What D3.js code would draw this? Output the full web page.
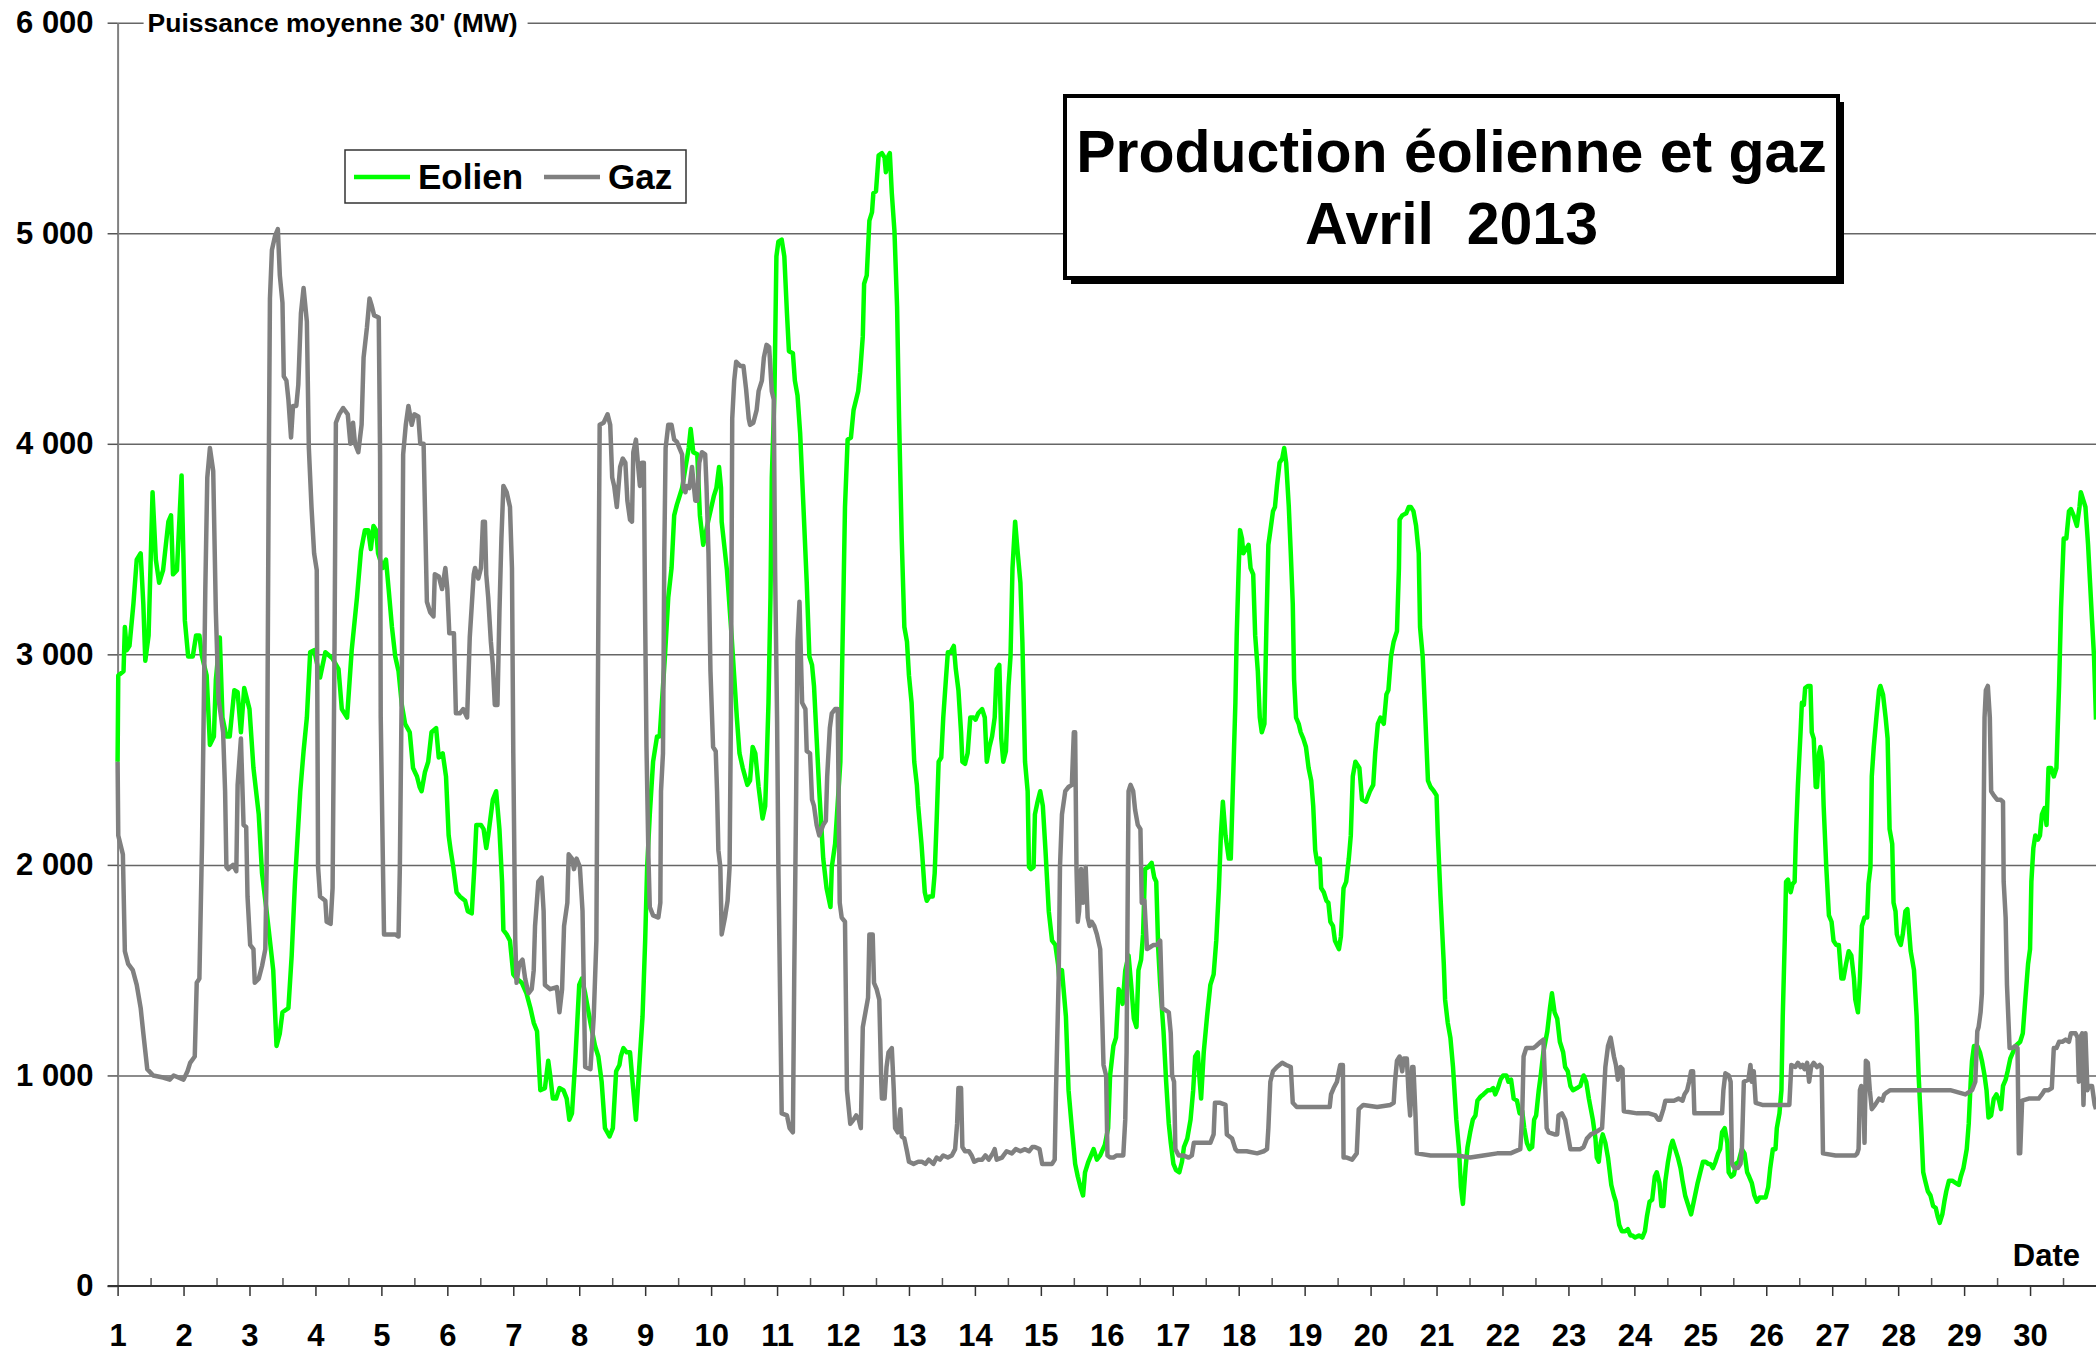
<!DOCTYPE html>
<html>
<head>
<meta charset="utf-8">
<script src="https://cdn.jsdelivr.net/npm/d3@7"></script>
<style>
html, body { margin: 0; padding: 0; background: #fff; }
svg text { font-family: "Liberation Sans", Arial, sans-serif; font-weight: bold; fill: #000; }
</style>
</head>
<body>
<svg id="chart"></svg>
<script>
// Production éolienne et gaz - avril 2013
// puissance moyenne 30' (MW): [jour, MW]

var eolien = [
  [1.00,2490],[1.01,2900],[1.09,2920],[1.11,3130],[1.14,3020],[1.18,3040],[1.24,3240],[1.29,3450],[1.35,3480],[1.39,3240],[1.42,2970],[1.47,3090],[1.53,3770],[1.58,3450],[1.63,3340],[1.69,3400],[1.77,3630],[1.81,3660],[1.84,3380],[1.90,3400],[1.97,3850],[2.02,3160],[2.07,2990],[2.14,2990],[2.19,3090],[2.24,3090],[2.28,2990],[2.35,2900],[2.40,2570],[2.46,2610],[2.49,2880],[2.55,3080],[2.59,2700],[2.65,2610],[2.70,2610],[2.77,2830],[2.82,2820],[2.87,2630],[2.92,2840],[3.00,2740],[3.06,2460],[3.14,2240],[3.19,1960],[3.26,1780],[3.36,1500],[3.41,1140],[3.46,1200],[3.50,1300],[3.59,1320],[3.64,1570],[3.69,1920],[3.77,2350],[3.82,2540],[3.87,2700],[3.92,3010],[3.98,3020],[4.07,2890],[4.15,3010],[4.26,2980],[4.35,2930],[4.40,2740],[4.48,2700],[4.55,3020],[4.63,3270],[4.69,3490],[4.75,3590],
  [4.80,3590],[4.84,3500],[4.88,3610],[4.92,3590],[4.95,3480],[5.02,3410],[5.07,3450],[5.11,3310],[5.16,3130],[5.21,2990],[5.26,2920],[5.31,2760],[5.36,2670],[5.43,2630],[5.48,2460],[5.54,2420],[5.58,2370],[5.61,2350],[5.66,2440],[5.71,2490],[5.76,2630],[5.83,2650],[5.87,2510],[5.93,2530],[5.98,2420],[6.02,2140],[6.05,2070],[6.09,1990],[6.14,1870],[6.19,1850],[6.27,1830],[6.31,1780],[6.37,1770],[6.41,1990],[6.44,2190],[6.51,2190],[6.55,2170],[6.59,2080],[6.62,2140],[6.69,2310],[6.74,2350],[6.79,2170],[6.83,1920],[6.85,1690],[6.90,1670],[6.95,1640],[7.00,1480],[7.05,1460],[7.13,1440],[7.20,1390],[7.26,1320],[7.31,1250],[7.36,1210],[7.41,930],[7.48,940],[7.53,1070],[7.56,1000],[7.60,890],[7.65,890],[7.70,940],[7.76,930],[7.81,890],[7.85,790],[7.89,820],[7.94,1070],[7.97,1250],[8.00,1430],[8.04,1460],[8.09,1390],[8.17,1250],[8.24,1140],[8.29,1090],[8.34,970],[8.39,750],[8.46,710],[8.51,750],[8.56,1020],[8.61,1050],
  [8.63,1090],[8.67,1130],[8.72,1110],[8.77,1110],[8.82,930],[8.86,790],[8.91,1040],[8.96,1280],[9.00,1640],[9.03,1990],[9.07,2240],[9.12,2490],[9.18,2610],[9.22,2610],[9.30,2990],[9.35,3270],[9.40,3410],[9.44,3660],[9.48,3710],[9.56,3790],[9.66,3980],[9.69,4070],[9.73,3960],[9.79,3950],[9.83,3660],[9.88,3520],[9.94,3610],[10.04,3750],[10.08,3790],[10.12,3890],[10.15,3790],[10.16,3630],[10.24,3400],[10.31,3090],[10.39,2700],[10.43,2530],[10.48,2460],[10.55,2380],[10.59,2400],[10.63,2560],[10.67,2530],[10.72,2370],[10.78,2220],[10.82,2280],[10.84,2460],[10.87,2770],[10.90,3270],[10.92,3840],[10.96,4230],[10.99,4890],[11.02,4960],[11.07,4970],[11.11,4890],[11.15,4620],[11.18,4440],[11.24,4430],[11.27,4300],[11.31,4230],[11.35,4050],[11.40,3700],[11.45,3340],[11.49,2990],[11.53,2950],[11.56,2850],[11.60,2600],[11.64,2350],[11.70,2030],[11.75,1890],[11.81,1800],[11.83,1990],[11.88,2100],[11.96,2490],[12.01,3340],[12.03,3700],[12.07,4020],[12.12,4030],[12.16,4160],[12.23,4250],[12.26,4340],[12.30,4510],[12.32,4760],[12.36,4800],[12.40,5060],
  [12.44,5100],[12.46,5190],[12.50,5200],[12.54,5370],[12.59,5380],[12.63,5360],[12.65,5290],[12.69,5370],[12.71,5380],[12.74,5190],[12.78,5010],[12.82,4650],[12.85,4120],[12.89,3550],[12.93,3130],[12.97,3060],[13.00,2900],[13.04,2770],[13.08,2490],[13.12,2380],[13.14,2280],[13.19,2100],[13.24,1870],[13.27,1830],[13.31,1850],[13.36,1850],[13.39,1960],[13.42,2210],[13.45,2490],[13.49,2510],[13.52,2700],[13.56,2880],[13.59,3010],[13.63,3010],[13.68,3040],[13.71,2930],[13.75,2830],[13.79,2630],[13.81,2490],[13.85,2480],[13.89,2530],[13.93,2700],[13.98,2700],[14.01,2690],[14.05,2720],[14.11,2740],[14.15,2700],[14.18,2490],[14.22,2560],[14.26,2610],[14.30,2700],[14.33,2930],[14.37,2950],[14.40,2600],[14.43,2490],[14.47,2540],[14.51,2850],[14.54,2990],[14.57,3410],[14.61,3630],[14.65,3480],[14.69,3340],[14.72,3060],[14.76,2490],[14.80,2350],[14.82,1990],[14.85,1980],[14.89,1990],[14.91,2240],[14.95,2300],[14.99,2350],[15.03,2280],[15.07,2070],[15.12,1780],[15.17,1640],[15.22,1620],[15.26,1530],[15.28,1460],[15.32,1500],[15.38,1280],[15.42,930],[15.47,750],[15.52,580],[15.56,520],[15.60,470],[15.64,430],[15.67,540],[15.72,590],[15.80,650],[15.85,600],[15.90,620],[15.97,670],[16.02,750],[16.05,1000],[16.10,1140],
  [16.14,1180],[16.18,1410],[16.21,1390],[16.24,1340],[16.28,1500],[16.33,1570],[16.37,1430],[16.41,1270],[16.45,1230],[16.48,1500],[16.52,1550],[16.55,1670],[16.58,1980],[16.63,1990],[16.68,2010],[16.72,1940],[16.75,1920],[16.78,1600],[16.81,1430],[16.86,1210],[16.90,970],[16.94,770],[16.97,680],[17.01,580],[17.05,550],[17.10,540],[17.14,590],[17.17,660],[17.22,700],[17.27,790],[17.31,930],[17.34,1090],[17.38,1110],[17.41,970],[17.43,890],[17.47,1110],[17.52,1280],[17.57,1430],[17.62,1480],[17.66,1640],[17.70,1890],[17.73,2140],[17.76,2300],[17.80,2140],[17.85,2030],[17.88,2030],[17.91,2350],[17.95,2770],[17.97,3090],[18.00,3410],[18.02,3590],[18.05,3550],[18.07,3480],[18.11,3500],[18.15,3520],[18.18,3410],[18.22,3380],[18.25,3090],[18.29,2920],[18.32,2700],[18.35,2630],[18.39,2670],[18.42,3130],[18.45,3520],[18.49,3610],[18.52,3680],[18.55,3700],[18.58,3800],[18.62,3910],[18.66,3930],[18.69,3980],[18.72,3910],[18.76,3700],[18.79,3480],[18.82,3240],[18.84,2880],[18.87,2700],[18.91,2670],[18.94,2630],[18.98,2600],[19.02,2560],[19.06,2460],[19.10,2400],[19.13,2280],[19.16,2070],[19.19,2010],[19.23,2030],[19.25,1890],[19.29,1870],[19.33,1830],[19.36,1820],[19.39,1730],[19.43,1710],[19.46,1640],[19.52,1600],[19.55,1660],[19.59,1890],[19.63,1920],[19.67,2030],[19.70,2140],[19.73,2420],[19.77,2490],
  [19.83,2460],[19.87,2310],[19.93,2300],[19.99,2350],[20.04,2380],[20.07,2530],[20.11,2670],[20.15,2700],[20.20,2670],[20.24,2810],[20.27,2830],[20.31,2990],[20.35,3060],[20.40,3110],[20.43,3410],[20.44,3640],[20.48,3660],[20.54,3670],[20.58,3700],[20.61,3700],[20.65,3680],[20.69,3610],[20.73,3480],[20.75,3130],[20.79,2990],[20.83,2700],[20.87,2400],[20.91,2370],[20.96,2350],[21.00,2330],[21.02,2140],[21.06,1850],[21.11,1530],[21.13,1360],[21.17,1250],[21.21,1180],[21.25,1040],[21.30,790],[21.34,650],[21.37,470],[21.40,390],[21.44,560],[21.47,660],[21.51,730],[21.55,790],[21.59,810],[21.62,880],[21.67,900],[21.71,910],[21.78,930],[21.82,930],[21.86,940],[21.89,910],[21.93,940],[21.97,980],[22.01,1000],[22.06,1000],[22.09,970],[22.13,980],[22.17,890],[22.22,880],[22.26,820],[22.30,830],[22.33,750],[22.37,680],[22.41,650],[22.45,660],[22.48,790],[22.51,810],[22.55,930],[22.58,1000],[22.62,1110],[22.68,1210],[22.72,1320],[22.75,1390],[22.79,1300],[22.83,1270],[22.87,1160],[22.92,1110],[22.95,1040],[22.99,1020],[23.03,950],[23.07,930],[23.13,940],[23.18,950],[23.23,1000],[23.27,970],[23.31,890],[23.34,840],[23.37,790],[23.41,700],[23.43,610],[23.46,590],[23.49,680],[23.52,720],[23.56,680],[23.60,610],
  [23.65,480],[23.69,430],[23.72,400],[23.75,330],[23.77,290],[23.81,260],[23.86,260],[23.90,270],[23.94,240],[23.97,240],[24.01,230],[24.07,240],[24.12,230],[24.16,260],[24.19,330],[24.23,400],[24.27,410],[24.31,520],[24.34,540],[24.38,490],[24.41,380],[24.44,380],[24.47,500],[24.51,590],[24.55,660],[24.58,690],[24.62,650],[24.66,610],[24.70,560],[24.73,500],[24.77,430],[24.82,380],[24.86,340],[24.90,400],[24.92,430],[24.96,490],[25.00,540],[25.04,590],[25.08,590],[25.12,580],[25.15,580],[25.19,560],[25.23,590],[25.27,630],[25.30,650],[25.33,730],[25.37,750],[25.41,680],[25.43,540],[25.47,520],[25.51,530],[25.54,580],[25.58,590],[25.63,650],[25.67,630],[25.71,540],[25.74,520],[25.78,490],[25.82,430],[25.86,400],[25.90,420],[25.94,420],[25.99,420],[26.03,470],[26.06,560],[26.10,650],[26.14,650],[26.16,750],[26.20,820],[26.23,930],[26.25,1280],[26.28,1640],[26.30,1920],[26.33,1930],[26.37,1870],[26.40,1910],[26.43,1920],[26.45,2140],[26.48,2380],[26.52,2630],[26.54,2770],[26.57,2760],[26.59,2840],[26.63,2850],[26.67,2850],[26.69,2630],[26.72,2600],[26.75,2370],[26.77,2370],[26.80,2530],[26.82,2560],[26.85,2490],[26.87,2280],[26.91,1990],[26.95,1760],[26.99,1730],[27.02,1640],[27.06,1620],[27.10,1620],[27.14,1460],[27.17,1460],[27.21,1530],[27.25,1590],[27.29,1570],[27.33,1460],[27.35,1360],
  [27.39,1300],[27.42,1460],[27.45,1710],[27.49,1750],[27.53,1750],[27.55,1910],[27.58,1990],[27.60,2420],[27.63,2560],[27.67,2700],[27.71,2830],[27.73,2850],[27.77,2810],[27.81,2700],[27.84,2600],[27.87,2170],[27.91,2100],[27.93,1820],[27.96,1780],[27.98,1670],[28.01,1640],[28.04,1620],[28.07,1670],[28.11,1780],[28.14,1790],[28.16,1710],[28.19,1590],[28.24,1500],[28.28,1280],[28.31,1000],[28.35,750],[28.38,540],[28.41,500],[28.45,450],[28.49,430],[28.53,380],[28.57,370],[28.60,330],[28.63,300],[28.67,340],[28.70,400],[28.73,450],[28.77,500],[28.82,500],[28.87,490],[28.92,480],[28.95,520],[28.99,560],[29.04,650],[29.07,770],[29.10,970],[29.12,1070],[29.15,1140],[29.20,1140],[29.24,1110],[29.27,1070],[29.31,1000],[29.34,930],[29.37,800],[29.41,810],[29.45,890],[29.49,910],[29.53,880],[29.56,840],[29.59,950],[29.63,980],[29.66,1020],[29.70,1080],[29.74,1110],[29.78,1140],[29.85,1160],[29.89,1200],[29.93,1370],[29.97,1530],[30.00,1600],[30.02,1920],[30.05,2080],[30.08,2140],[30.12,2120],[30.15,2140],[30.18,2240],[30.22,2270],[30.25,2190],[30.28,2460],[30.32,2460],[30.36,2420],[30.40,2460],[30.44,2850],[30.47,3220],[30.51,3550],[30.55,3550],[30.59,3680],[30.62,3690],[30.66,3660],[30.71,3610],[30.75,3700],[30.77,3770],[30.81,3730],[30.84,3700],[30.88,3520],[30.91,3340],[30.94,3160],[30.97,2990],[31.00,2690]
];

var gaz = [
  [1.00,2490],[1.01,2140],[1.08,2050],[1.11,1590],[1.16,1530],[1.23,1500],[1.29,1430],[1.35,1320],[1.39,1200],[1.45,1030],[1.54,1000],[1.69,990],[1.79,980],[1.85,1000],[2.00,980],[2.06,1020],[2.10,1060],[2.17,1090],[2.20,1440],[2.24,1460],[2.28,2100],[2.33,3310],[2.36,3840],[2.40,3980],[2.45,3870],[2.49,3200],[2.53,2790],[2.57,2700],[2.60,2630],[2.63,2350],[2.65,1990],[2.68,1980],[2.75,2000],[2.80,1970],[2.82,2380],[2.87,2600],[2.91,2190],[2.95,2180],[2.97,1850],[3.01,1620],[3.06,1600],[3.08,1440],[3.14,1460],[3.19,1520],[3.24,1600],[3.26,1990],[3.29,3770],[3.31,4690],[3.34,4920],[3.39,4990],[3.43,5020],[3.46,4800],[3.50,4670],[3.52,4320],[3.56,4300],[3.59,4210],[3.63,4030],[3.66,4180],[3.71,4180],[3.74,4280],[3.78,4620],[3.82,4740],[3.87,4580],[3.90,3980],[3.94,3700],[3.98,3480],[4.02,3400],[4.04,1990],[4.07,1850],[4.15,1830],[4.17,1730],[4.23,1720],[4.26,1890],[4.29,3060],[4.31,4100],[4.36,4140],[4.42,4170],[4.49,4140],[4.53,4000],[4.57,4100],[4.60,4000],[4.65,3960],[4.70,4090],[4.73,4410],[4.78,4550],[4.82,4690],
  [4.85,4660],[4.89,4610],[4.96,4600],[4.98,3950],[4.99,2700],[5.02,2070],[5.04,1670],[5.13,1670],[5.21,1670],[5.26,1660],[5.28,1990],[5.31,2880],[5.33,3950],[5.37,4090],[5.41,4180],[5.46,4090],[5.50,4140],[5.56,4130],[5.59,4000],[5.64,4000],[5.66,3700],[5.69,3250],[5.74,3200],[5.79,3180],[5.81,3380],[5.87,3370],[5.92,3310],[5.97,3410],[6.00,3310],[6.03,3100],[6.10,3100],[6.13,2720],[6.19,2720],[6.24,2740],[6.30,2700],[6.34,3080],[6.40,3380],[6.42,3410],[6.47,3360],[6.51,3410],[6.54,3630],[6.57,3630],[6.59,3380],[6.62,3270],[6.66,3060],[6.69,2950],[6.72,2760],[6.76,2760],[6.79,3200],[6.82,3550],[6.85,3800],[6.90,3770],[6.95,3700],[6.98,3410],[7.00,2530],[7.03,1640],[7.05,1440],[7.09,1530],[7.14,1550],[7.18,1460],[7.23,1390],[7.28,1410],[7.31,1500],[7.33,1710],[7.38,1920],[7.43,1940],[7.46,1780],[7.48,1430],[7.56,1410],[7.66,1420],[7.70,1300],[7.74,1410],[7.77,1710],[7.82,1820],[7.84,2050],[7.89,2030],[7.92,1980],[7.96,2030],[8.01,1990],[8.05,1780],[8.09,1040],[8.17,1030],[8.22,1280],[8.26,1640],[8.28,2700],[8.31,4090],[8.37,4100],[8.43,4140],[8.47,4090],[8.50,3840],[8.53,3800],[8.57,3700],
  [8.62,3890],[8.66,3930],[8.70,3910],[8.73,3730],[8.77,3640],[8.80,3630],[8.82,3960],[8.86,4020],[8.90,3870],[8.92,3800],[8.95,3910],[8.98,3910],[9.00,3160],[9.02,2560],[9.05,2030],[9.07,1800],[9.12,1760],[9.20,1750],[9.23,1820],[9.24,2350],[9.27,2530],[9.29,3480],[9.31,3980],[9.35,4090],[9.40,4090],[9.44,4020],[9.48,4010],[9.52,3980],[9.56,3950],[9.58,3790],[9.61,3770],[9.63,3800],[9.67,3790],[9.71,3890],[9.76,3730],[9.79,3730],[9.82,3910],[9.86,3960],[9.91,3950],[9.93,3800],[9.96,3480],[9.99,2920],[10.03,2560],[10.07,2540],[10.09,2350],[10.11,2070],[10.14,1990],[10.16,1670],[10.21,1750],[10.25,1830],[10.28,1990],[10.30,2700],[10.32,4120],[10.35,4300],[10.38,4390],[10.44,4370],[10.49,4370],[10.53,4260],[10.57,4120],[10.59,4090],[10.64,4100],[10.69,4160],[10.72,4250],[10.77,4300],[10.80,4410],[10.84,4470],[10.88,4460],[10.92,4250],[10.95,4210],[10.97,3410],[11.00,2700],[11.02,1990],[11.05,1280],[11.07,820],[11.15,810],[11.19,750],[11.24,730],[11.26,1460],[11.29,2350],[11.31,3060],[11.34,3250],[11.38,2770],[11.43,2740],[11.45,2540],[11.50,2530],[11.53,2310],[11.56,2280],[11.60,2190],[11.64,2140],[11.70,2190],[11.74,2210],[11.76,2420],[11.80,2650],[11.83,2720],[11.88,2740],[11.92,2740],[11.95,1820],[11.98,1750],[12.03,1730],[12.06,930],[12.11,770],[12.16,790],[12.20,810],[12.24,790],[12.27,750],[12.30,1230],[12.34,1300],[12.38,1370],[12.40,1670],
  [12.45,1670],[12.47,1440],[12.51,1410],[12.55,1360],[12.58,970],[12.59,890],[12.63,890],[12.66,1040],[12.69,1110],[12.74,1130],[12.77,930],[12.79,750],[12.83,730],[12.87,840],[12.89,710],[12.93,700],[12.97,640],[13.00,590],[13.07,580],[13.14,590],[13.20,590],[13.25,580],[13.30,600],[13.37,580],[13.42,610],[13.47,600],[13.52,620],[13.59,610],[13.65,620],[13.70,650],[13.73,770],[13.75,940],[13.79,940],[13.81,660],[13.85,640],[13.91,640],[13.95,620],[13.99,590],[14.05,600],[14.11,600],[14.16,620],[14.21,600],[14.27,630],[14.30,650],[14.33,600],[14.41,610],[14.48,640],[14.56,630],[14.62,650],[14.69,640],[14.76,650],[14.82,640],[14.87,660],[14.91,660],[14.98,650],[15.02,580],[15.09,580],[15.17,580],[15.21,600],[15.23,930],[15.27,1460],[15.29,1990],[15.32,2240],[15.37,2350],[15.42,2370],[15.47,2380],[15.50,2630],[15.52,2630],[15.54,1990],[15.56,1730],[15.58,1780],[15.61,1980],[15.64,1820],[15.66,1850],[15.68,1990],[15.71,1750],[15.74,1710],[15.77,1730],[15.81,1710],[15.85,1670],[15.90,1600],[15.93,1280],[15.95,1050],[15.99,1000],[16.01,620],[16.05,610],
  [16.10,610],[16.15,620],[16.20,620],[16.25,620],[16.28,790],[16.30,1110],[16.32,1990],[16.33,2350],[16.36,2380],[16.40,2350],[16.43,2260],[16.47,2190],[16.51,2170],[16.53,1820],[16.57,1830],[16.61,1600],[16.66,1610],[16.71,1620],[16.76,1620],[16.81,1640],[16.84,1320],[16.89,1310],[16.94,1300],[16.97,1200],[16.99,1000],[17.02,970],[17.04,650],[17.09,620],[17.16,620],[17.24,610],[17.29,620],[17.32,680],[17.39,680],[17.47,680],[17.57,680],[17.62,720],[17.64,870],[17.72,870],[17.80,860],[17.82,720],[17.90,700],[17.95,650],[17.98,640],[18.12,640],[18.28,630],[18.38,640],[18.43,650],[18.45,750],[18.48,970],[18.52,1020],[18.58,1040],[18.66,1060],[18.72,1050],[18.79,1040],[18.82,870],[18.88,850],[19.14,850],[19.38,850],[19.40,910],[19.44,940],[19.49,970],[19.52,1020],[19.54,1050],[19.58,1050],[19.59,610],[19.64,610],[19.72,600],[19.79,630],[19.82,840],
  [19.89,860],[20.10,850],[20.30,860],[20.35,870],[20.37,970],[20.40,1070],[20.44,1090],[20.48,1020],[20.50,1080],[20.55,1080],[20.58,890],[20.60,810],[20.63,1040],[20.65,1040],[20.68,820],[20.70,630],[20.91,620],[21.11,620],[21.31,620],[21.51,610],[21.71,620],[21.92,630],[22.12,630],[22.27,650],[22.30,820],[22.32,1090],[22.36,1130],[22.42,1130],[22.47,1130],[22.51,1140],[22.58,1160],[22.62,1170],[22.65,930],[22.67,750],[22.70,730],[22.79,720],[22.83,720],[22.85,810],[22.90,820],[22.95,790],[22.99,720],[23.03,650],[23.09,650],[23.18,650],[23.23,660],[23.28,700],[23.34,720],[23.41,730],[23.51,750],[23.53,860],[23.56,1040],[23.60,1140],[23.64,1180],
  [23.69,1090],[23.72,1050],[23.75,980],[23.79,1040],[23.82,1030],[23.84,830],[24.04,820],[24.22,820],[24.32,810],[24.36,790],[24.39,790],[24.44,840],[24.47,880],[24.60,880],[24.67,890],[24.73,880],[24.76,910],[24.80,930],[24.83,970],[24.86,1020],[24.89,1020],[24.91,820],[25.33,820],[25.35,930],[25.38,1010],[25.43,1000],[25.46,970],[25.48,580],[25.52,560],[25.57,560],[25.61,580],[25.63,650],[25.66,970],[25.73,980],[25.76,1050],[25.78,970],[25.81,1020],[25.84,870],[25.94,860],[26.19,860],[26.35,860],[26.38,1050],[26.44,1040],[26.48,1060],[26.52,1040],[26.55,1050],[26.58,1030],[26.62,1060],[26.65,970],[26.68,1040],[26.72,1060],[26.77,1040],[26.81,1050],[26.84,1040],[26.86,630],[27.05,620],[27.35,620],
  [27.38,630],[27.40,650],[27.42,930],[27.44,950],[27.47,930],[27.49,680],[27.51,1070],[27.54,1060],[27.57,930],[27.60,840],[27.65,860],[27.71,890],[27.76,880],[27.79,910],[27.83,920],[27.88,930],[28.39,930],[28.79,930],[29.02,910],[29.12,930],[29.17,970],[29.20,1210],[29.22,1230],[29.25,1300],[29.27,1390],[29.29,1990],[29.31,2700],[29.33,2830],[29.36,2850],[29.39,2700],[29.41,2350],[29.45,2330],[29.50,2310],[29.55,2310],[29.59,2300],[29.60,1920],[29.63,1750],[29.65,1430],[29.69,1130],[29.73,1130],[29.78,1140],[29.81,1130],[29.83,630],[29.85,630],[29.88,880],[29.98,890],[30.06,890],[30.13,890],[30.18,910],[30.22,930],[30.28,930],[30.33,940],[30.36,1130],[30.40,1130],[30.44,1160],[30.49,1160],[30.54,1170],[30.59,1160],[30.62,1200],[30.69,1200],[30.72,1180],[30.74,970],[30.76,1180],[30.79,1200],[30.81,860],[30.84,1200],[30.87,930],[30.89,950],[30.94,950],[30.98,860],[31.00,840]
];

var jours = d3.range(1, 31);          // étiquettes 1 .. 30
var demiJours = d3.range(1.5, 31, 1);  // petites graduations
var paliers = [0, 1000, 2000, 3000, 4000, 5000, 6000];
var seriesNames = ["Eolien", "Gaz"];
var seriesColors = ["#00ff00", "#808080"];
var titre = ["Production éolienne et gaz", "Avril  2013"];
var axeTitre = "Puissance moyenne 30' (MW)";

var width = 2096, height = 1352;
var x0 = 117.6, x1 = 2096, yBottom = 1286, yTop = 22.7;

var fr = d3.formatLocale({decimal: ",", thousands: " ", grouping: [3], currency: ["", " €"]});
var fmt = fr.format(",d");

var x = d3.scaleLinear().domain([1, 31]).range([x0, x1]);
var y = d3.scaleLinear().domain([0, 6000]).range([yBottom, yTop]);

var svg = d3.select("#chart")
    .attr("width", width)
    .attr("height", height);

svg.append("rect").attr("width", width).attr("height", height).attr("fill", "#fff");

// Quadrillage horizontal
svg.append("g")
    .attr("class", "grid")
    .attr("transform", "translate(" + x0 + ",0)")
    .call(d3.axisLeft(y).tickValues(paliers.slice(1)).tickSize(-(x1 - x0)).tickFormat(""))
    .call(function(g) { g.select(".domain").remove(); })
    .selectAll("line").attr("stroke", "#666").attr("stroke-width", 1.5);

// Axe vertical
var yAxis = svg.append("g")
    .attr("transform", "translate(" + x0 + ",0)")
    .call(d3.axisLeft(y).tickValues(paliers).tickSize(10).tickSizeOuter(0).tickPadding(14).tickFormat(fmt));
yAxis.select(".domain").attr("stroke", "#808080").attr("stroke-width", 2);
yAxis.selectAll(".tick line").attr("stroke", "#555").attr("stroke-width", 1.5);
yAxis.selectAll("text")
    .attr("font-size", 31)
    .attr("font-family", null)
    .attr("fill", "#000");

// Axe horizontal : grandes graduations vers le bas, petites vers le haut
var xAxis = svg.append("g")
    .attr("transform", "translate(0," + yBottom + ")")
    .call(d3.axisBottom(x).tickValues(jours).tickSize(10).tickSizeOuter(0).tickFormat(d3.format("d")));
xAxis.select(".domain").remove();
xAxis.selectAll(".tick line").attr("stroke", "#333").attr("stroke-width", 1.5);
xAxis.selectAll("text")
    .attr("dy", null)
    .attr("y", 60)
    .attr("font-size", 31)
    .attr("font-family", null)
    .attr("fill", "#000");

svg.append("g")
    .attr("transform", "translate(0," + yBottom + ")")
    .call(d3.axisBottom(x).tickValues(demiJours).tickSize(-8).tickFormat(""))
    .call(function(g) { g.select(".domain").remove(); })
    .selectAll("line").attr("stroke", "#555").attr("stroke-width", 1.5);

svg.append("line")
    .attr("x1", x0 - 10).attr("x2", x1)
    .attr("y1", yBottom).attr("y2", yBottom)
    .attr("stroke", "#333").attr("stroke-width", 2);

// Titre de l'axe des ordonnées (masque la ligne à 6 000)
svg.append("rect")
    .attr("x", x0 + 26).attr("y", 8)
    .attr("width", 384).attr("height", 30)
    .attr("fill", "#fff");
svg.append("text")
    .attr("x", x0 + 30).attr("y", y(6000) + 9)
    .attr("font-size", 26.5)
    .text(axeTitre);

svg.append("text")
    .attr("x", 2080).attr("y", 1266)
    .attr("text-anchor", "end")
    .attr("font-size", 31)
    .text("Date");

// Courbes
var line = d3.line()
    .x(function(d) { return x(d[0]); })
    .y(function(d) { return y(d[1]); });

[eolien, gaz].forEach(function(serie, i) {
    svg.append("path")
        .datum(serie)
        .attr("fill", "none")
        .attr("stroke", seriesColors[i])
        .attr("stroke-width", 4.5)
        .attr("stroke-linejoin", "round")
        .attr("d", line);
});

// Légende
var legend = svg.append("g").attr("transform", "translate(345,150)");
legend.append("rect")
    .attr("width", 341).attr("height", 53)
    .attr("fill", "#fff").attr("stroke", "#333").attr("stroke-width", 1.5);
var legendX = [9, 199];
seriesNames.forEach(function(name, i) {
    legend.append("line")
        .attr("x1", legendX[i]).attr("x2", legendX[i] + 56)
        .attr("y1", 27).attr("y2", 27)
        .attr("stroke", seriesColors[i]).attr("stroke-width", 4.5);
    legend.append("text")
        .attr("x", legendX[i] + 64).attr("y", 39)
        .attr("font-size", 35)
        .text(name);
});

// Cadre du titre avec ombre
var tx = 1065, ty = 96, tw = 773, th = 182;
svg.append("rect")
    .attr("x", tx + 6).attr("y", ty + 6)
    .attr("width", tw).attr("height", th)
    .attr("fill", "#000");
svg.append("rect")
    .attr("x", tx).attr("y", ty)
    .attr("width", tw).attr("height", th)
    .attr("fill", "#fff").attr("stroke", "#000").attr("stroke-width", 4);
svg.selectAll(".titre")
    .data(titre)
    .enter().append("text")
    .attr("class", "titre")
    .attr("x", tx + tw / 2)
    .attr("y", function(d, i) { return ty + 76 + i * 72; })
    .attr("text-anchor", "middle")
    .attr("font-size", 59)
    .style("white-space", "pre")
    .text(function(d) { return d; });
</script>
</body>
</html>
